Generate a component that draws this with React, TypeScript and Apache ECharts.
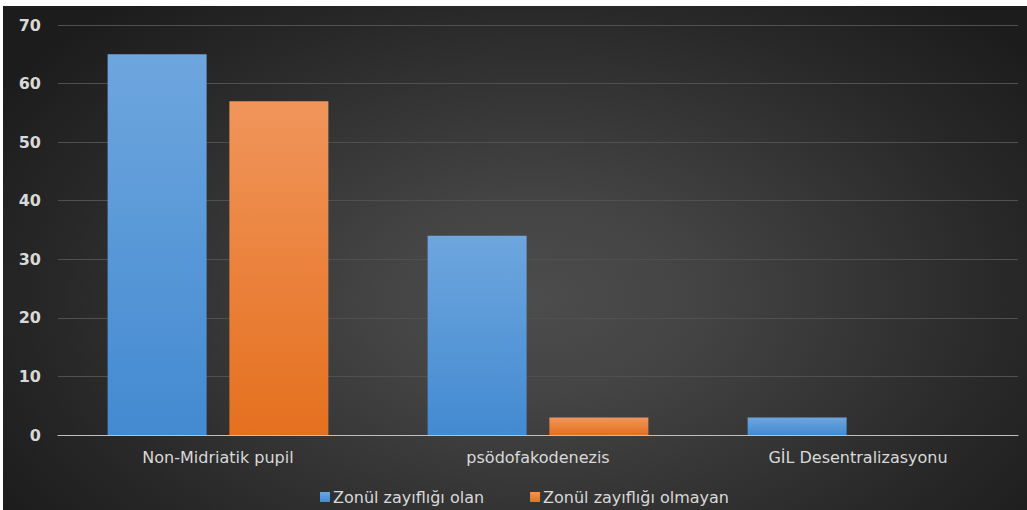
import React, { useEffect, useRef } from "react";
import * as echarts from "echarts";

const categories = ["Non-Midriatik pupil", "psödofakodenezis", "GİL Desentralizasyonu"];
const seriesNames = ["Zonül zayıflığı olan", "Zonül zayıflığı olmayan"];
const olanValues = [65, 34, 3];
const olmayanValues = [57, 3, 0];
const yTicks = { min: 0, max: 70, interval: 10 };

export default function App() {
  const ref = useRef<HTMLDivElement>(null);
  useEffect(() => {
    document.body.style.margin = "0";
    const chart = echarts.init(ref.current!, null, { renderer: "svg" });
    const labelFont = "'DejaVu Sans', sans-serif";
    chart.setOption({
      animation: false,
      backgroundColor: "transparent",
      grid: { left: 55, right: 9, top: 19, bottom: 75, containLabel: false },
      legend: {
        left: 312,
        top: 478,
        itemWidth: 10,
        itemHeight: 10,
        itemGap: 46,
        icon: "rect",
        textStyle: { color: "#d9d9d9", fontSize: 16, fontFamily: labelFont, padding: [0, 0, 0, -2] },
        data: seriesNames,
      },
      xAxis: {
        type: "category",
        data: categories,
        axisLine: { show: true, lineStyle: { color: "#bfbfbf", width: 1 } },
        axisTick: { show: false },
        axisLabel: { color: "#d9d9d9", fontSize: 16, fontFamily: labelFont, margin: 14 },
      },
      yAxis: {
        type: "value",
        min: yTicks.min,
        max: yTicks.max,
        interval: yTicks.interval,
        axisLine: { show: false },
        axisTick: { show: false },
        axisLabel: { color: "#d9d9d9", fontSize: 16, fontWeight: "bold", fontFamily: labelFont, margin: 17 },
        splitLine: { lineStyle: { color: "#505050", width: 1 } },
      },
      series: [
        {
          name: seriesNames[0],
          type: "bar",
          data: olanValues,
          barWidth: 99,
          barGap: "23%",
          itemStyle: {
            color: new echarts.graphic.LinearGradient(0, 0, 0, 1, [
              { offset: 0, color: "#6ea6de" },
              { offset: 1, color: "#438ad1" },
            ]),
          },
        },
        {
          name: seriesNames[1],
          type: "bar",
          data: olmayanValues,
          barWidth: 99,
          itemStyle: {
            color: new echarts.graphic.LinearGradient(0, 0, 0, 1, [
              { offset: 0, color: "#f0955b" },
              { offset: 1, color: "#e5701f" },
            ]),
          },
        },
      ],
    });
    return () => chart.dispose();
  }, []);

  return (
    <div style={{ position: "absolute", left: 0, top: 0, width: 1027, height: 510, background: "#ffffff" }}>
      <div
        style={{
          position: "absolute",
          left: 3,
          top: 6,
          width: 1024,
          height: 504,
          background:
            "radial-gradient(ellipse 62% 78% at 52% 58%, #4c4c4c 0%, #444444 25%, #363636 50%, #282828 75%, #1c1c1c 100%)",
        }}
      >
        <div ref={ref} style={{ width: 1024, height: 504 }} />
      </div>
    </div>
  );
}
